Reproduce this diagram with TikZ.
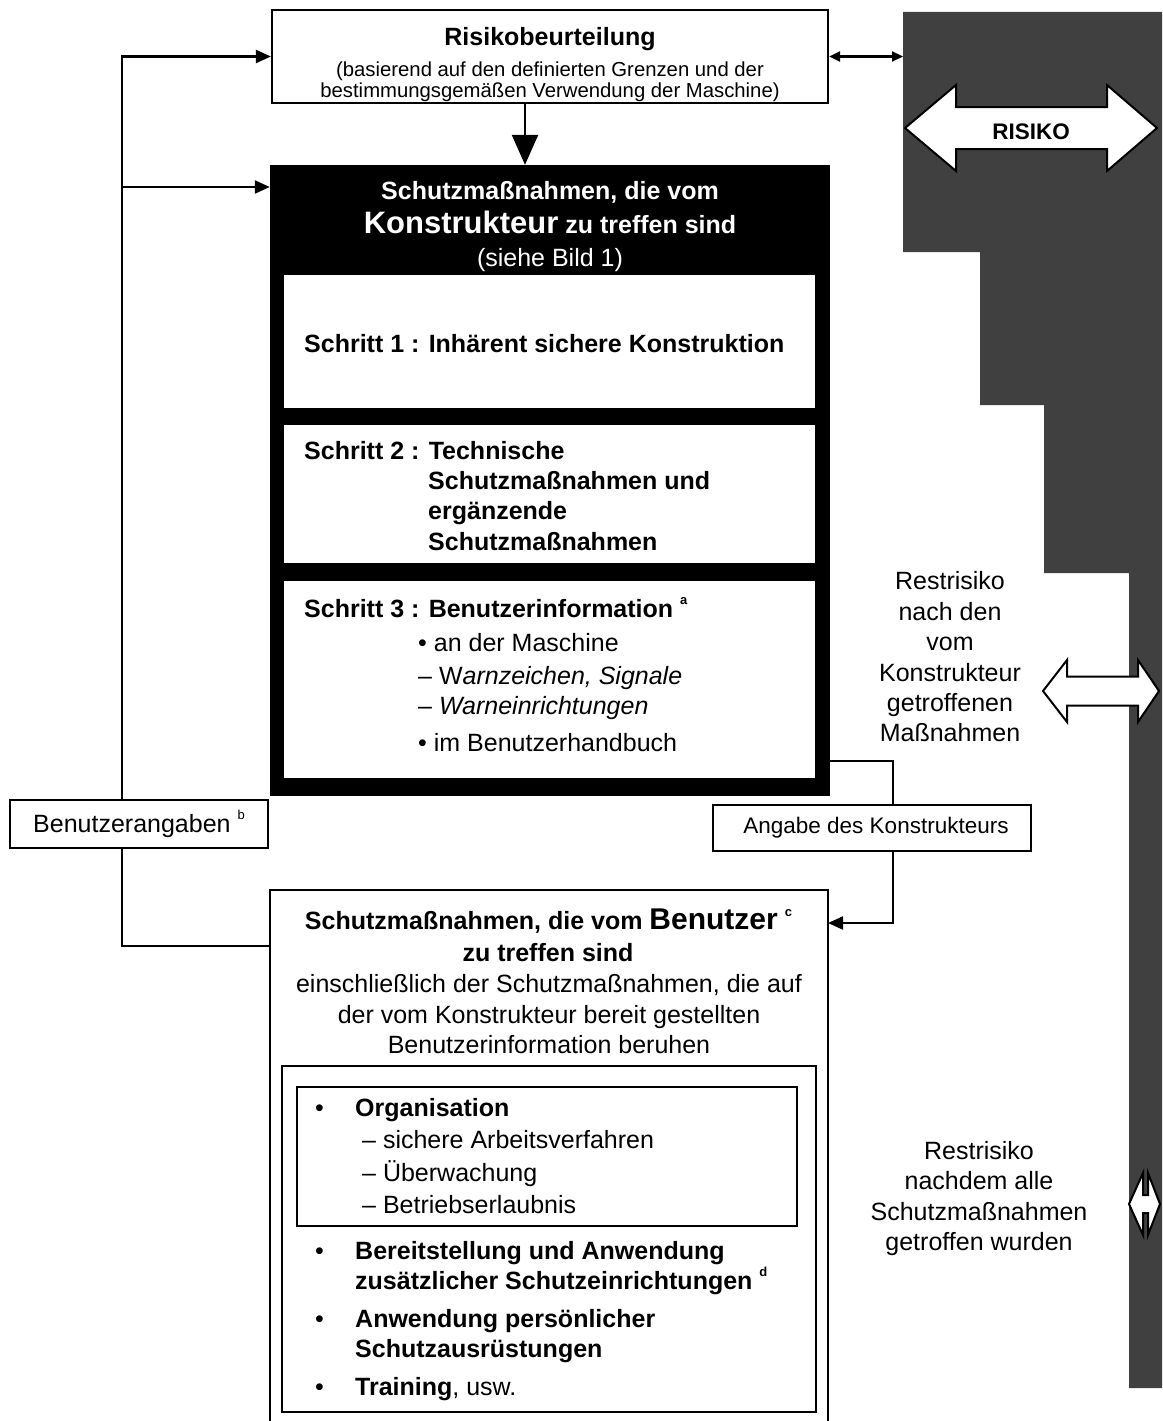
\documentclass[tikz,border=0pt]{standalone}
\usepackage{fontspec}
\setmainfont{Liberation Sans}
\usetikzlibrary{arrows.meta}
\newcommand\fsz[1]{\fontsize{#1}{#1}\selectfont}
\newcommand\supnote[1]{\raisebox{0.5em}{\fsz{13}#1}}
\begin{document}
\begin{tikzpicture}[x=1pt,y=-1pt,
 ln/.style={line width=2.2pt},
 arr/.style={ln,-{Triangle[length=15pt,width=13pt]}},
 bigarr/.style={line width=2.5pt,-{Triangle[length=30pt,width=26pt]}},
 dblarr/.style={ln,{Triangle[length=11pt,width=10pt]}-{Triangle[length=11pt,width=10pt]}},
 box/.style={draw,line width=2.2pt,fill=white,inner sep=0pt},
 panel/.style={fill=white,inner sep=0pt,minimum width=531},
 bt/.style={inner sep=0pt,anchor=base west,font=\fsz{25}\bfseries},
 nt/.style={inner sep=0pt,anchor=base west,font=\fsz{25}},
 ct/.style={inner sep=0pt,anchor=base,font=\fsz{25}},
 bct/.style={inner sep=0pt,anchor=base,font=\fsz{25}\bfseries},
 widearrow/.style={fill=white,draw,line width=2pt,line join=miter},
 riskfill/.style={fill=black!75},
]
\useasboundingbox (0,0) rectangle (1162,1421);

% risk bar
\fill[riskfill] (903,12) -- (1162,12) -- (1162,1388) -- (1129,1388) -- (1129,573)
  -- (1044,573) -- (1044,405) -- (980,405) -- (980,252) -- (903,252) -- cycle;
\coordinate (barL) at (903,56.5);

% wide double arrows
\filldraw[widearrow] (905,128) -- (956,85) -- (956,107) -- (1107,107) -- (1107,85) -- (1157,128)
  -- (1107,171) -- (1107,149) -- (956,149) -- (956,171) -- cycle;
\node[bct,font=\fsz{22.5}\bfseries] (risiko) at (1031,139) {RISIKO};
\filldraw[widearrow] (1043,691) -- (1067,660) -- (1067,676.5) -- (1138,676.5) -- (1138,660) -- (1159,691)
  -- (1138,722) -- (1138,705.5) -- (1067,705.5) -- (1067,722) -- cycle;
\filldraw[widearrow] (1129,1204) -- (1143,1173) -- (1143,1195) -- (1148,1195) -- (1148,1173) -- (1160,1204)
  -- (1148,1235) -- (1148,1213) -- (1143,1213) -- (1143,1235) -- cycle;

% Risikobeurteilung
\node[box,minimum width=556,minimum height=93] (risk) at (550,56.5) {};
\node[bct] (risktitle) at (550,46) {Risikobeurteilung};
\node[ct,font=\fsz{20.3}] (risksub1) at (550,77) {(basierend auf den definierten Grenzen und der};
\node[ct,font=\fsz{20.3}] (risksub2) at (550,97) {bestimmungsgemäßen Verwendung der Maschine)};

% Konstrukteur block
\node[fill=black,inner sep=0pt,minimum width=560,minimum height=631] (konst) at (550,480.5) {};
\node[bct,text=white] (kh1) at (550,199) {Schutzmaßnahmen, die vom};
\node[bct,text=white] (kh2) at (550,233) {{\fsz{31}Konstrukteur} zu treffen sind};
\node[ct,text=white] (kh3) at (550,266) {(siehe Bild 1)};
\node[panel,minimum height=133] (s1) at (549.5,341.5) {};
\node[panel,minimum height=138] (s2) at (549.5,494) {};
\node[panel,minimum height=197] (s3) at (549.5,679.5) {};
\node[bt] (s1t) at (304,352) {Schritt 1 : Inhärent sichere Konstruktion};
\node[bt] (s2t1) at (304,459) {Schritt 2 : Technische};
\node[bt] (s2t2) at (428,489) {Schutzmaßnahmen und};
\node[bt] (s2t3) at (428,519) {ergänzende};
\node[bt] (s2t4) at (428,550) {Schutzmaßnahmen};
\node[bt] (s3t1) at (304,617) {Schritt 3 : Benutzerinformation \supnote{a}};
\node[nt] (s3t2) at (418,651) {• an der Maschine};
\node[nt] (s3t3) at (418,684) {– W\textit{arnzeichen, Signale}};
\node[nt] (s3t4) at (418,714) {– \textit{Warneinrichtungen}};
\node[nt] (s3t5) at (418,751) {• im Benutzerhandbuch};

% Restrisiko texts
\node[ct] (rr1) at (950,589) {Restrisiko};
\node[ct] (rr2) at (950,620) {nach den};
\node[ct] (rr3) at (950,650) {vom};
\node[ct] (rr4) at (950,681) {Konstrukteur};
\node[ct] (rr5) at (950,711) {getroffenen};
\node[ct] (rr6) at (950,741) {Maßnahmen};
\node[ct] (rq1) at (979,1159) {Restrisiko};
\node[ct] (rq2) at (979,1189) {nachdem alle};
\node[ct] (rq3) at (979,1220) {Schutzmaßnahmen};
\node[ct] (rq4) at (979,1250) {getroffen wurden};

% side boxes
\node[box,minimum width=258,minimum height=48,font=\fsz{25}] (ba) at (139,824) {Benutzerangaben \supnote{b}};
\node[box,minimum width=318,minimum height=46,font=\fsz{22.5}] (angabe) at (872,828) {\hspace*{8pt}Angabe des Konstrukteurs};

% user block
\node[inner sep=0pt,minimum width=558,minimum height=531] (user) at (549,1155.5) {};
\draw[ln] (user.south west) -- (user.north west) -- (user.north east) -- (user.south east);
\node[bct] (u1) at (548.5,929) {Schutzmaßnahmen, die vom {\fsz{30}Benutzer} \supnote{c}};
\node[bct] (u2) at (548,961) {zu treffen sind};
\node[ct] (u3) at (549,992) {einschließlich der Schutzmaßnahmen, die auf};
\node[ct] (u4) at (549,1023) {der vom Konstrukteur bereit gestellten};
\node[ct] (u5) at (549,1053) {Benutzerinformation beruhen};
\node[box,minimum width=534,minimum height=346] (ulist) at (549,1239) {};
\node[box,minimum width=500,minimum height=139] (org) at (547,1156.5) {};
\node[nt] (o0) at (315,1116) {•};
\node[bt] (o1) at (355,1116) {Organisation};
\node[nt] (o2) at (362,1148) {– sichere Arbeitsverfahren};
\node[nt] (o3) at (362,1181) {– Überwachung};
\node[nt] (o4) at (362,1213) {– Betriebserlaubnis};
\node[nt] (b0) at (315,1259) {•};
\node[bt] (b1) at (355,1259) {Bereitstellung und Anwendung};
\node[bt] (b2) at (355,1289) {zusätzlicher Schutzeinrichtungen \supnote{d}};
\node[nt] (p0) at (315,1327) {•};
\node[bt] (p1) at (355,1327) {Anwendung persönlicher};
\node[bt] (p2) at (355,1357) {Schutzausrüstungen};
\node[nt] (t0) at (315,1395) {•};
\node[nt] (t1) at (355,1395) {\textbf{Training}, usw.};

% connectors
\draw[arr] ([xshift=-17pt]ba.north) |- (risk.west);
\coordinate (j1) at (122,187);
\draw[arr] (j1) -- (j1 -| konst.west);
\coordinate (uw) at (270,946);
\draw[ln] ([xshift=-17pt]ba.south) |- (uw);
\draw[bigarr] ([xshift=-25pt]risk.south) -- ([xshift=-25pt]konst.north);
\draw[dblarr] (risk.east) -- (barL);
\coordinate (kout) at (830,761);
\draw[ln] (kout) -| ([xshift=21pt]angabe.north);
\coordinate (uin) at (828,923);
\draw[arr] ([xshift=21pt]angabe.south) |- (uin);
\end{tikzpicture}
\end{document}
